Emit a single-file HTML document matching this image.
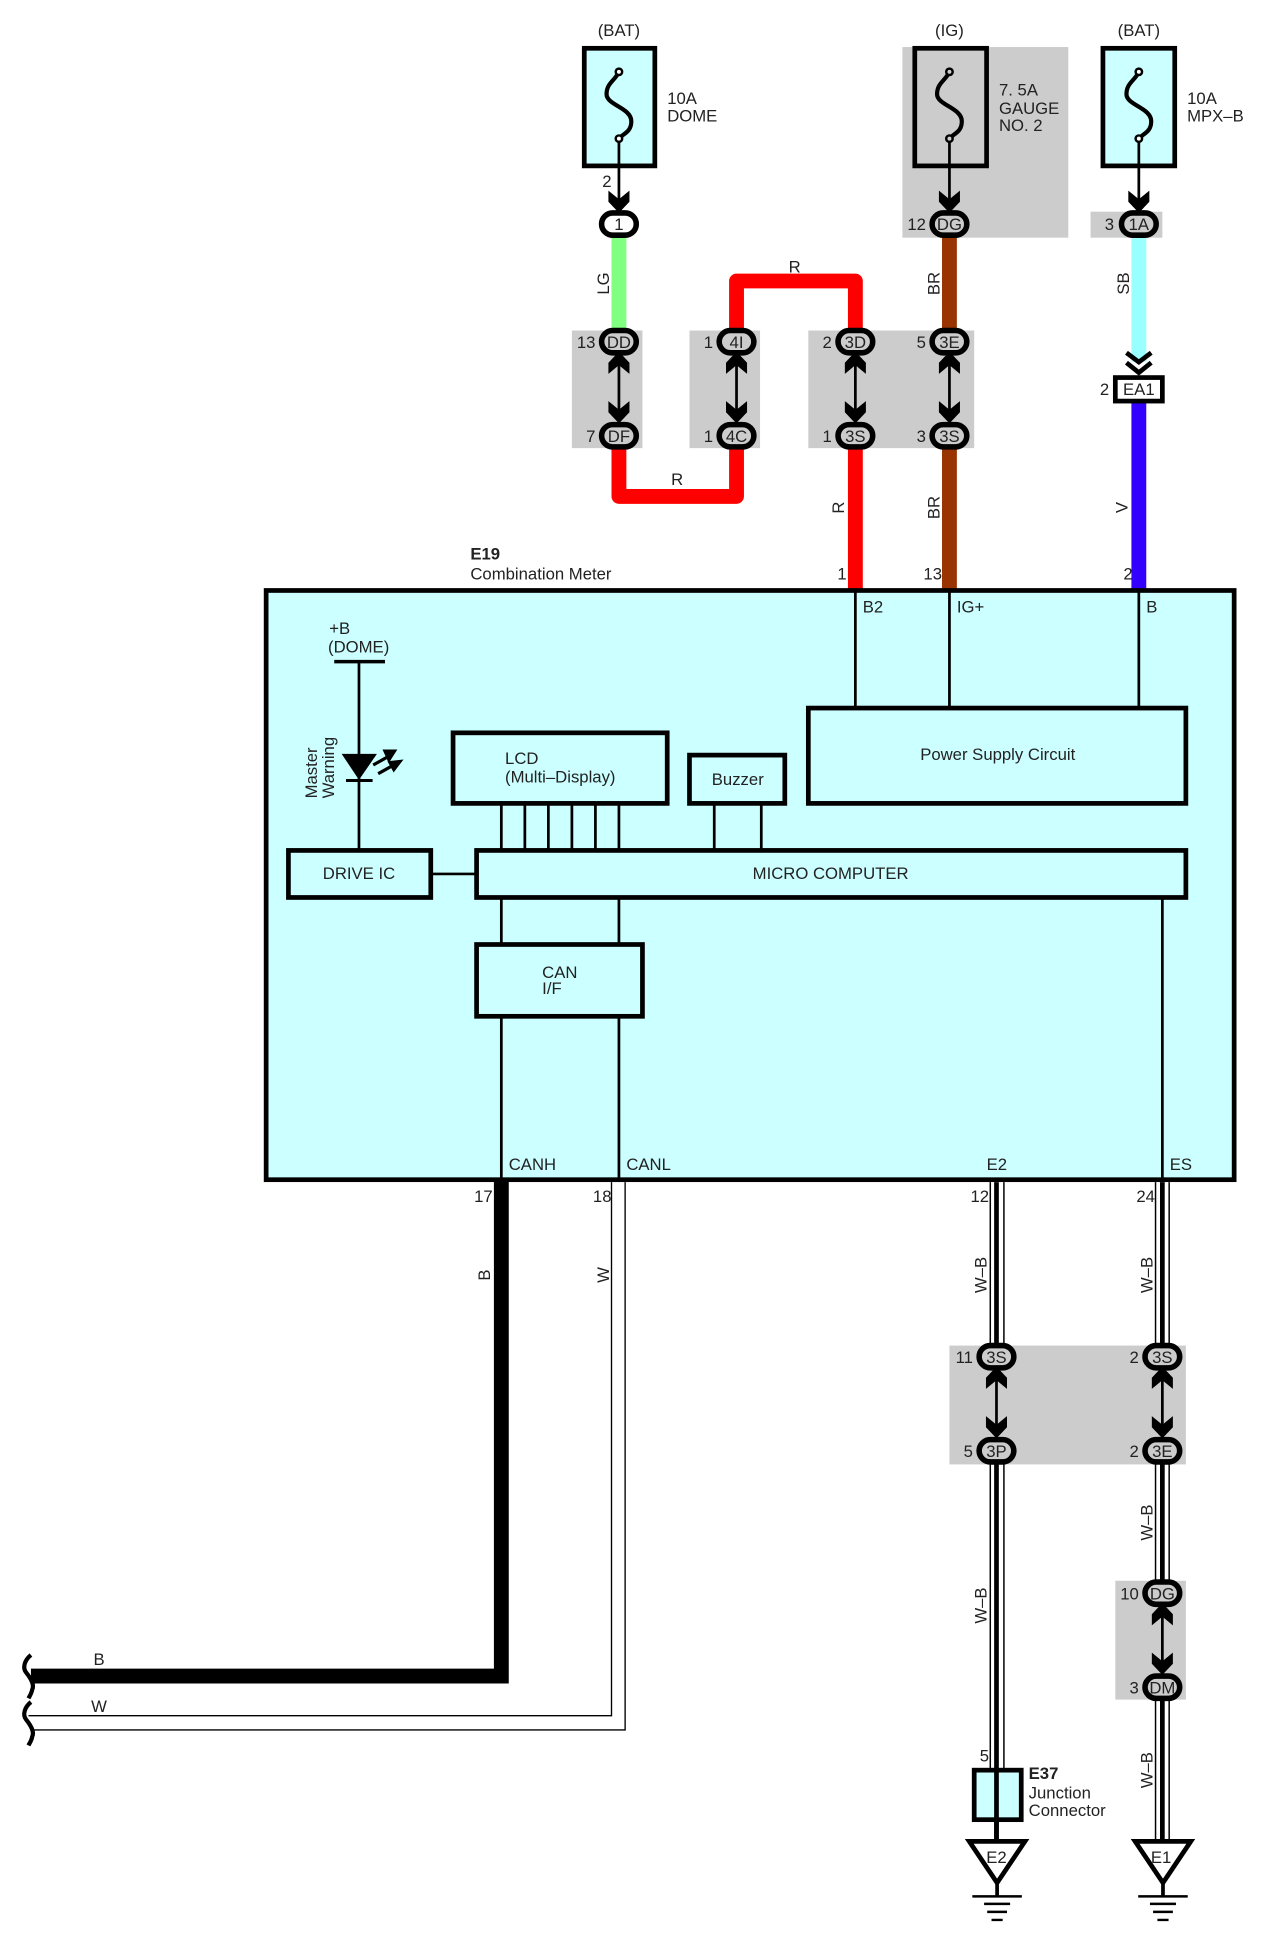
<!DOCTYPE html>
<html><head><meta charset="utf-8"><style>
html,body{margin:0;padding:0;background:#fff;width:1275px;height:1941px;overflow:hidden}
svg{display:block}
text{font-family:"Liberation Sans",sans-serif;font-size:13.5px;fill:#222}
.m{text-anchor:middle}.e{text-anchor:end}.b{font-weight:bold}
.c{fill:#ccc;stroke:#000;stroke-width:4.5}
.box{fill:#ccffff;stroke:#000;stroke-width:3.8}
.n{fill:none;stroke:#000;stroke-width:2.2}
</style></head><body>
<svg width="1275" height="1941" viewBox="0 0 1030 1568" xmlns="http://www.w3.org/2000/svg">
<defs>
<path id="dn" d="M-8.500,-17 L0,-10 L8.500,-17 L8.500,-8 L0,1 L-8.500,-8 Z" fill="#000"/>
<path id="up" d="M-8.500,17 L0,10 L8.500,17 L8.500,8 L0,-1 L-8.500,8 Z" fill="#000"/>
<path id="fuse" d="M0,-29 C-3,-22 -10,-20 -10,-11 C-10,-2 10,0 10,11 C10,20 3,21 0,25" fill="none" stroke="#000" stroke-width="3.4"/>
</defs>
<!-- gray -->
<g fill="#cccccc">
<rect x="729" y="38" width="134" height="154"/><rect x="881" y="171" width="58" height="21"/>
<rect x="462" y="267" width="57" height="95"/><rect x="557" y="267" width="57" height="95"/><rect x="653" y="267" width="134" height="95"/>
<rect x="767" y="1087" width="191" height="96"/><rect x="901" y="1277" width="57" height="96"/>
</g>
<!-- wires -->
<g fill="none" stroke-width="12">
<path d="M500,190V268" stroke="#80ff80"/>
<path d="M500,362V401H595V362M595,267V227H691V267M691,362V478" stroke="#ff0000" stroke-linejoin="round"/>
<path d="M767,190V268M767,362V478" stroke="#993300"/>
<path d="M920,190V292" stroke="#99ffff"/>
<path d="M920,325V478" stroke="#3300ff"/>
</g>
<!-- fuses -->
<rect x="472" y="39" width="57" height="95" class="box"/>
<rect x="739" y="39" width="58" height="95" fill="none" stroke="#000" stroke-width="3.8"/>
<rect x="891" y="39" width="58" height="95" class="box"/>
<g transform="translate(500,87)"><use href="#fuse"/><circle cy="-29" r="2.600" fill="#fff" stroke="#000" stroke-width="2"/><circle cy="25" r="2.600" fill="#fff" stroke="#000" stroke-width="2"/></g>
<g transform="translate(767,87)"><use href="#fuse"/><circle cy="-29" r="2.600" fill="#ccc" stroke="#000" stroke-width="2"/><circle cy="25" r="2.600" fill="#ccc" stroke="#000" stroke-width="2"/></g>
<g transform="translate(920,87)"><use href="#fuse"/><circle cy="-29" r="2.600" fill="#fff" stroke="#000" stroke-width="2"/><circle cy="25" r="2.600" fill="#fff" stroke="#000" stroke-width="2"/></g>
<path d="M500,114V165M767,114V165M920,114V165" class="n"/>
<use href="#dn" x="500" y="171"/><use href="#dn" x="767" y="171"/><use href="#dn" x="920" y="171"/>
<text x="500" y="29" class="m">(BAT)</text><text x="767" y="29" class="m">(IG)</text><text x="920" y="29" class="m">(BAT)</text>
<text x="539" y="84">10A</text><text x="539" y="98">DOME</text>
<text x="807" y="77">7. 5A</text><text x="807" y="92">GAUGE</text><text x="807" y="106">NO. 2</text>
<text x="959" y="84">10A</text><text x="959" y="98">MPX–B</text>
<!-- connector arrows -->
<path d="M500,285V341M595,285V341M691,285V341M767,285V341M805,1105V1161M939,1105V1161M939,1296V1352" stroke="#000" stroke-width="2.2"/>
<g>
<use href="#up" x="500" y="285"/><use href="#dn" x="500" y="341"/>
<use href="#up" x="595" y="285"/><use href="#dn" x="595" y="341"/>
<use href="#up" x="691" y="285"/><use href="#dn" x="691" y="341"/>
<use href="#up" x="767" y="285"/><use href="#dn" x="767" y="341"/>
</g>
<!-- main box -->
<rect x="215" y="477" width="782" height="476" class="box"/>
<text x="380" y="452" class="b">E19</text><text x="380" y="468">Combination Meter</text>
<text x="684" y="468" class="e">1</text><text x="761" y="468" class="e">13</text><text x="915" y="468" class="e">2</text>
<path d="M691,477V572M767,477V572M920,477V572M405,649V687M424,649V687M443,649V687M462,649V687M481,649V687M500,649V687M577,649V687M615,649V687M348,706H385M405,725V763M500,725V763M405,821V953M500,821V953M939,725V953M290,534V687" class="n"/>
<path d="M270,534.500H311" stroke="#000" stroke-width="2.8"/>
<g fill="none" stroke="#000" stroke-width="3.8">
<rect x="653" y="572" width="305" height="77"/><rect x="366" y="592" width="173" height="57"/><rect x="557" y="610" width="77" height="39"/>
<rect x="233" y="687" width="115" height="38"/><rect x="385" y="687" width="573" height="38"/><rect x="385" y="763" width="134" height="58"/>
</g>
<text x="697" y="495">B2</text><text x="773" y="495">IG+</text><text x="926" y="495">B</text>
<text x="806" y="614" class="m">Power Supply Circuit</text>
<text x="408" y="617">LCD</text><text x="408" y="632">(Multi–Display)</text>
<text x="596" y="634" class="m">Buzzer</text>
<text x="290" y="710" class="m">DRIVE IC</text><text x="671" y="710" class="m">MICRO COMPUTER</text>
<text x="438" y="790">CAN</text><text x="438" y="803">I/F</text>
<text x="266" y="512">+B</text><text x="265" y="527">(DOME)</text>
<text x="411" y="945">CANH</text><text x="506" y="945">CANL</text><text x="797" y="945">E2</text><text x="945" y="945">ES</text>
<text transform="translate(256,645) rotate(-90)">Master</text><text transform="translate(270,645) rotate(-90)">Warning</text>
<path d="M276,609H304.500L290,630Z" fill="#000"/><path d="M279.500,630.500H301" stroke="#000" stroke-width="2.4"/>
<path d="M301.500,618L313,611.500M305.500,625L318,618" stroke="#000" stroke-width="2.600"/>
<path d="M309,605.500H321L314,616.500ZM313,615L326,613.500L318,624Z" fill="#000"/>
<!-- lower wires -->
<path d="M405,953V1354H25" fill="none" stroke="#000" stroke-width="12"/>
<path d="M494,955V1386H23M505,955V1397.500H25" fill="none" stroke="#000" stroke-width="1.1"/>
<g fill="none" stroke="#000">
<path d="M800,955V1087M811,955V1087M800,1183V1430M811,1183V1430M933.500,955V1087M944.500,955V1087M933.500,1183V1277M944.500,1183V1277M933.500,1373V1487M944.500,1373V1487" stroke-width="1.2"/>
<path d="M805,955V1087M805,1183V1487M939,955V1087M939,1183V1277M939,1373V1487" stroke-width="3.8"/>
</g>
<use href="#up" x="805" y="1105"/><use href="#dn" x="805" y="1161"/>
<use href="#up" x="939" y="1105"/><use href="#dn" x="939" y="1161"/>
<use href="#up" x="939" y="1296"/><use href="#dn" x="939" y="1352"/>
<!-- wavy breaks -->
<path d="M25,1337C20,1341 18,1347 21,1351C25,1356 28,1361 26,1365C25.500,1368 24,1370 23,1372M25,1375C20,1379 18,1385 21,1389C25,1394 28,1399 26,1403C25.500,1406 24,1408 23,1410" fill="none" stroke="#000" stroke-width="3.4"/>
<!-- connectors -->
<g class="c">
<rect x="486" y="172" width="28" height="18" rx="9" style="fill:#fff"/>
<rect x="753" y="172" width="28" height="18" rx="9"/><rect x="906" y="172" width="28" height="18" rx="9"/>
<rect x="486" y="267" width="28" height="18" rx="9"/><rect x="486" y="343" width="28" height="18" rx="9"/>
<rect x="581" y="267" width="28" height="18" rx="9"/><rect x="581" y="343" width="28" height="18" rx="9"/>
<rect x="677" y="267" width="28" height="18" rx="9"/><rect x="677" y="343" width="28" height="18" rx="9"/>
<rect x="753" y="267" width="28" height="18" rx="9"/><rect x="753" y="343" width="28" height="18" rx="9"/>
<rect x="791" y="1087" width="28" height="18" rx="9"/><rect x="791" y="1163" width="28" height="18" rx="9"/>
<rect x="925" y="1087" width="28" height="18" rx="9"/><rect x="925" y="1163" width="28" height="18" rx="9"/>
<rect x="925" y="1278" width="28" height="18" rx="9"/><rect x="925" y="1354" width="28" height="18" rx="9"/>
</g>
<rect x="901" y="305" width="38" height="19" fill="#fff" stroke="#000" stroke-width="3.8"/>
<path d="M910,285L920,292.500L930,285M910,293L920,301L930,293" fill="none" stroke="#000" stroke-width="3.8"/>
<g class="m">
<text x="500" y="186">1</text><text x="767" y="186">DG</text><text x="920" y="186">1A</text>
<text x="500" y="281">DD</text><text x="500" y="357">DF</text><text x="595" y="281">4I</text><text x="595" y="357">4C</text>
<text x="691" y="281">3D</text><text x="691" y="357">3S</text><text x="767" y="281">3E</text><text x="767" y="357">3S</text>
<text x="920" y="319">EA1</text>
<text x="805" y="1101">3S</text><text x="805" y="1177">3P</text><text x="939" y="1101">3S</text><text x="939" y="1177">3E</text>
<text x="939" y="1292">DG</text><text x="939" y="1368">DM</text>
</g>
<g class="e">
<text x="494" y="151">2</text><text x="748" y="186">12</text><text x="900" y="186">3</text>
<text x="481" y="281">13</text><text x="481" y="357">7</text><text x="576" y="281">1</text><text x="576" y="357">1</text>
<text x="672" y="281">2</text><text x="672" y="357">1</text><text x="748" y="281">5</text><text x="748" y="357">3</text>
<text x="896" y="319">2</text>
<text x="398" y="971">17</text><text x="494" y="971">18</text><text x="799" y="971">12</text><text x="933" y="971">24</text>
<text x="786" y="1101">11</text><text x="786" y="1177">5</text><text x="920" y="1101">2</text><text x="920" y="1177">2</text>
<text x="920" y="1292">10</text><text x="920" y="1368">3</text><text x="799" y="1423">5</text>
</g>
<text x="642" y="220" class="m">R</text><text x="547" y="392" class="m">R</text>
<text x="80" y="1345" class="m">B</text><text x="80" y="1383" class="m">W</text>
<g class="m">
<text transform="translate(492,229) rotate(-90)">LG</text>
<text transform="translate(759,229) rotate(-90)">BR</text>
<text transform="translate(912,229) rotate(-90)">SB</text>
<text transform="translate(682,410) rotate(-90)">R</text>
<text transform="translate(759,410) rotate(-90)">BR</text>
<text transform="translate(911,410) rotate(-90)">V</text>
<text transform="translate(396,1030) rotate(-90)">B</text>
<text transform="translate(492,1030) rotate(-90)">W</text>
<text transform="translate(797,1030) rotate(-90)">W–B</text>
<text transform="translate(931,1030) rotate(-90)">W–B</text>
<text transform="translate(797,1297) rotate(-90)">W–B</text>
<text transform="translate(931,1230) rotate(-90)">W–B</text>
<text transform="translate(931,1430) rotate(-90)">W–B</text>
</g>
<!-- E37 and grounds -->
<rect x="787" y="1430" width="38" height="40" class="box"/>
<path d="M805,1430V1487" stroke="#000" stroke-width="3.8"/>
<text x="831" y="1437" class="b">E37</text><text x="831" y="1453">Junction</text><text x="831" y="1467">Connector</text>
<g stroke="#000" stroke-width="3.8" fill="#fff">
<path d="M783,1487.500H828L805.500,1521Z"/><path d="M917,1487.500H962L939.500,1521Z"/>
</g>
<path d="M805.500,1521V1532M939.500,1521V1532" stroke="#000" stroke-width="3"/>
<path d="M785.500,1532H825.500M795,1538H816M797.500,1544.500H813.500M801,1551H810M919.500,1532H959.500M929,1538H950M931.500,1544.500H947.500M935,1551H944" stroke="#000" stroke-width="2"/>
<text x="805" y="1505" class="m">E2</text><text x="938" y="1505" class="m">E1</text>
</svg>
</body></html>
